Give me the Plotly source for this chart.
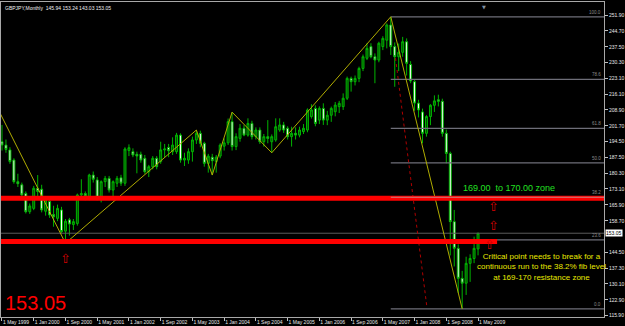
import plotly.graph_objects as go
import pandas as pd

# ---------------- data ----------------
months = pd.date_range("1999-05-01", periods=121, freq="MS")
month_labels = [f"1 {d:%b %Y}" for d in months]

opens = [194.5, 193.0, 190.8, 186.2, 176.4, 175.0, 171.1, 162.8, 164.3, 173.4,
         173.0, 163.0, 167.4, 161.5, 159.8, 163.6, 154.0, 159.1, 157.0, 157.5,
         170.4, 171.0, 169.6, 179.4, 177.2, 168.9, 176.4, 177.9, 172.6, 175.7,
         178.2, 175.7, 190.5, 190.0, 188.8, 188.8, 187.0, 180.9, 183.2, 187.0,
         185.5, 190.8, 191.9, 190.0, 190.0, 197.5, 186.2, 186.2, 190.0, 195.3,
         198.3, 193.8, 184.7, 187.5, 185.5, 188.0, 192.5, 194.0, 203.6, 192.3,
         196.0, 200.6, 197.5, 202.8, 196.8, 199.8, 194.5, 196.8, 194.5, 195.3,
         199.8, 202.1, 200.6, 196.8, 198.3, 197.5, 199.1, 199.8, 205.9, 209.6,
         204.3, 209.6, 204.3, 206.5, 208.1, 210.4, 210.4, 214.2, 223.2, 221.7,
         223.2, 227.7, 232.3, 237.6, 233.0, 231.5, 237.6, 240.5, 247.4, 237.6,
         233.0, 235.0, 239.8, 229.5, 221.7, 212.0, 208.0, 198.3, 205.9, 211.0,
         213.5, 212.8, 198.3, 189.2, 158.3, 146.2, 132.6, 130.4, 139.4, 141.6,
         145.94]
highs = [202.1, 195.5, 192.0, 187.0, 180.0, 176.0, 172.0, 166.5, 174.5, 179.4,
         175.0, 168.5, 168.5, 165.5, 166.0, 165.0, 159.5, 160.0, 159.5, 171.0,
         177.5, 172.0, 180.0, 181.0, 178.5, 177.0, 179.0, 179.0, 177.0, 179.0,
         179.5, 192.0, 193.3, 191.5, 190.0, 190.0, 188.5, 184.0, 188.0, 188.0,
         194.5, 193.5, 193.5, 196.5, 198.5, 198.3, 189.5, 191.5, 196.8, 199.8,
         199.5, 194.5, 189.0, 189.0, 188.5, 193.8, 196.0, 205.0, 207.9, 198.3,
         202.5, 202.0, 205.1, 204.0, 201.0, 201.0, 198.0, 204.3, 197.8, 205.1,
         205.1, 203.5, 201.5, 201.3, 201.0, 201.3, 202.5, 209.6, 211.5, 211.0,
         210.5, 211.9, 208.5, 210.4, 212.5, 213.0, 216.4, 224.0, 224.0, 224.5,
         228.5, 234.0, 239.1, 239.1, 234.5, 239.8, 242.3, 248.1, 251.1, 239.5,
         239.0, 242.0, 241.3, 231.0, 222.5, 213.5, 209.5, 206.5, 211.5, 215.5,
         215.8, 214.0, 200.0, 190.0, 163.6, 148.0, 136.0, 142.4, 143.5, 151.5,
         153.24]
lows = [190.5, 189.5, 184.5, 175.5, 174.0, 169.5, 162.0, 161.8, 163.5, 169.6,
        162.5, 161.0, 160.0, 156.0, 158.5, 153.0, 148.5, 152.0, 154.5, 156.5,
        168.5, 168.0, 168.0, 176.0, 168.0, 167.0, 174.0, 171.5, 168.0, 174.0,
        174.5, 174.5, 188.0, 187.5, 180.2, 185.0, 180.0, 178.5, 182.0, 182.0,
        184.5, 187.5, 187.5, 188.5, 189.0, 185.0, 183.5, 184.5, 185.5, 193.5,
        192.0, 183.2, 180.5, 179.4, 180.5, 187.0, 190.5, 193.0, 190.5, 190.7,
        194.5, 197.0, 196.8, 195.5, 195.5, 193.5, 192.3, 193.8, 189.5, 194.5,
        199.0, 198.5, 195.5, 192.3, 195.5, 196.5, 198.0, 198.8, 205.0, 201.5,
        202.5, 202.1, 202.0, 203.5, 206.0, 207.5, 208.9, 213.4, 217.2, 220.0,
        221.5, 226.5, 231.5, 232.3, 221.0, 230.5, 236.0, 236.8, 233.8, 219.4,
        226.5, 233.0, 224.5, 221.0, 208.5, 205.5, 193.8, 196.8, 202.0, 208.0,
        210.5, 196.8, 184.7, 143.0, 138.0, 126.0, 118.8, 125.1, 131.0, 139.5,
        143.03]
closes = [193.0, 191.0, 185.5, 176.4, 175.5, 170.4, 162.8, 165.4, 173.4, 172.0,
          163.6, 168.0, 161.3, 160.5, 164.3, 153.8, 158.5, 157.2, 158.3, 170.4,
          171.0, 170.0, 179.4, 177.5, 168.9, 176.4, 177.9, 172.6, 176.4, 177.9,
          175.7, 191.2, 191.8, 188.5, 188.0, 186.2, 180.9, 183.2, 187.0, 183.2,
          190.8, 191.2, 190.4, 193.0, 197.5, 186.2, 187.0, 190.0, 195.3, 198.3,
          193.8, 184.7, 188.0, 185.9, 187.5, 193.0, 194.0, 203.6, 192.3, 196.8,
          200.6, 197.5, 202.8, 196.8, 199.8, 194.5, 196.8, 196.0, 196.8, 201.3,
          202.1, 199.8, 196.8, 198.3, 197.5, 199.8, 200.6, 208.9, 208.9, 202.8,
          209.6, 204.3, 206.5, 209.6, 211.1, 211.9, 214.2, 223.2, 221.7, 223.2,
          227.7, 233.0, 236.8, 233.0, 231.5, 239.1, 241.3, 247.4, 237.6, 233.0,
          235.0, 239.8, 230.0, 222.0, 212.0, 208.9, 198.3, 205.9, 211.0, 213.0,
          212.8, 198.3, 189.2, 158.3, 146.2, 132.6, 130.4, 139.4, 141.6, 146.2,
          153.05]

# zigzag swing points (bar index) – prices taken from highs/lows
zz_start = (-0.5, 207.5)
zz_swings = [(16, "L"), (49, "H"), (53, "L"), (58, "H"), (68, "L"), (98, "H"), (116, "L")]

fib_ratios = [0.0, 23.6, 38.2, 50.0, 61.8, 78.6, 100.0]
fib_hi_idx, fib_lo_idx = 98, 116

zone_upper = 168.9
zone_lower = 149.3
zone_lower_end = 124.8
bid = 153.05

dotted_pts = [(99.2, 232.4), (107.1, 119.7)]

# 151.50 label is hidden by the price box in the original
ytick_vals = [251.90, 244.70, 237.50, 230.30, 223.10, 216.10, 208.90, 201.70, 194.50,
              187.50, 180.30, 173.10, 165.90, 158.70, 144.50, 137.30, 130.10,
              122.90, 115.90]

# ---------------- figure ----------------
idx = list(range(len(opens)))
XR = [-0.25, 151.75]
YR = [115.1, 257.8]

fig = go.Figure()

# bid line
fig.add_trace(go.Scatter(x=XR, y=[bid, bid], mode="lines",
                         line=dict(color="#5a5a5a", width=1), hoverinfo="skip"))

# fibonacci levels
fhi, flo = highs[fib_hi_idx], lows[fib_lo_idx]
for r in fib_ratios:
    lvl = flo + (fhi - flo) * r / 100.0
    fig.add_trace(go.Scatter(x=[fib_hi_idx, XR[1]], y=[lvl, lvl], mode="lines",
                             line=dict(color="#6e6e78", width=1.3), hoverinfo="skip"))
    fig.add_annotation(x=XR[1], y=lvl, xref="x", yref="y", text=f"{r:.1f}",
                       showarrow=False, xanchor="right", yanchor="bottom", xshift=-1,
                       font=dict(size=4.5, color="#8a8a8a", family="Liberation Sans"))

# candles
fig.add_trace(go.Candlestick(
    x=idx, open=opens, high=highs, low=lows, close=closes,
    increasing=dict(line=dict(color="#00B400", width=1), fillcolor="#005000"),
    decreasing=dict(line=dict(color="#00B400", width=1), fillcolor="#FFFFFF"),
    hoverinfo="skip"))

# dotted red line
fig.add_trace(go.Scatter(x=[p[0] for p in dotted_pts], y=[p[1] for p in dotted_pts],
                         mode="lines", line=dict(color="#b00000", width=1, dash="dot"),
                         hoverinfo="skip"))

# zigzag
zx = [zz_start[0]] + [i for i, t in zz_swings]
zy = [zz_start[1]] + [highs[i] if t == "H" else lows[i] for i, t in zz_swings]
fig.add_trace(go.Scatter(x=zx, y=zy, mode="lines",
                         line=dict(color="#b0ac00", width=1), hoverinfo="skip"))

# red zone lines
fig.add_trace(go.Scatter(x=XR, y=[zone_upper, zone_upper], mode="lines",
                         line=dict(color="#ff0000", width=5), hoverinfo="skip"))
fig.add_trace(go.Scatter(x=[XR[0], zone_lower_end], y=[zone_lower, zone_lower], mode="lines",
                         line=dict(color="#ff0000", width=5), hoverinfo="skip"))
# fib 38.2 line drawn over the red zone
lvl382 = flo + (fhi - flo) * 0.382
fig.add_trace(go.Scatter(x=[fib_hi_idx, XR[1]], y=[lvl382, lvl382], mode="lines",
                         line=dict(color="#c88080", width=1), hoverinfo="skip"))

# texts
fig.add_annotation(xref="paper", yref="paper", x=0, y=1, xanchor="left", yanchor="top",
                   xshift=2, yshift=-1, showarrow=False,
                   text="GBPJPY,Monthly  145.94 153.24 143.03 153.05",
                   font=dict(size=5, color="#f0f0f0", family="Liberation Sans"))
fig.add_annotation(xref="x", yref="y", x=0.25, y=121.5, xanchor="left", yanchor="middle",
                   showarrow=False, text="153.05",
                   font=dict(size=20, color="#ff0000", family="Liberation Sans"))
fig.add_annotation(xref="x", yref="y", x=127.8, y=173.5, showarrow=False,
                   text="169.00  to 170.00 zone",
                   font=dict(size=9, color="#22e022", family="Liberation Sans"))
fig.add_annotation(xref="x", yref="y", x=135.9, y=137.6, showarrow=False, align="center",
                   text="Critical point needs to break for a<br>continuous run to the 38.2% fib level<br>at 169-170 resistance zone",
                   font=dict(size=8, color="#e8e800", family="Liberation Sans"))
for ax_, ay_ in [(16.1, 141.8), (123.8, 165.1), (123.8, 156.5), (122.8, 147.8)]:
    fig.add_annotation(xref="x", yref="y", x=ax_, y=ay_, showarrow=False, text="⇧",
                       font=dict(size=13, color="#d00000", family="DejaVu Sans"))
# current price box on axis
fig.add_annotation(xref="paper", yref="y", x=1, y=bid, xanchor="left", yanchor="middle",
                   xshift=1, showarrow=False, text="153.05", bgcolor="#ffffff",
                   borderpad=0, font=dict(size=5, color="#000000", family="Liberation Sans"))
# chart shift marker
fig.add_annotation(xref="x", yref="paper", x=121.5, y=1, yanchor="top", showarrow=False,
                   text="▼", font=dict(size=5, color="#8090a0", family="DejaVu Sans"))

fig.update_layout(
    width=625, height=326, margin=dict(l=1, r=21, t=2, b=9, autoexpand=False),
    paper_bgcolor="#000000", plot_bgcolor="#000000", showlegend=False,
    xaxis=dict(range=XR, tickvals=list(range(0, 121, 8)),
               ticktext=[month_labels[i] for i in range(0, 121, 8)],
               ticks="outside", ticklen=3, tickcolor="#c0c0c0", tickangle=0,
               ticklabelposition="outside right", automargin=False,
               tickfont=dict(size=5, color="#e8e8e8", family="Liberation Sans"),
               showline=True, linecolor="#a8a8a8", linewidth=1, mirror=True,
               showgrid=False, zeroline=False, rangeslider=dict(visible=False)),
    yaxis=dict(side="right", range=YR, tickvals=ytick_vals, automargin=False,
               ticktext=[f"{v:.2f}" for v in ytick_vals],
               ticks="outside", ticklen=3, tickcolor="#c0c0c0",
               tickfont=dict(size=5, color="#e8e8e8", family="Liberation Sans"),
               showline=True, linecolor="#a8a8a8", linewidth=1, mirror=True,
               showgrid=False, zeroline=False),
)

fig.write_html("out.html")
